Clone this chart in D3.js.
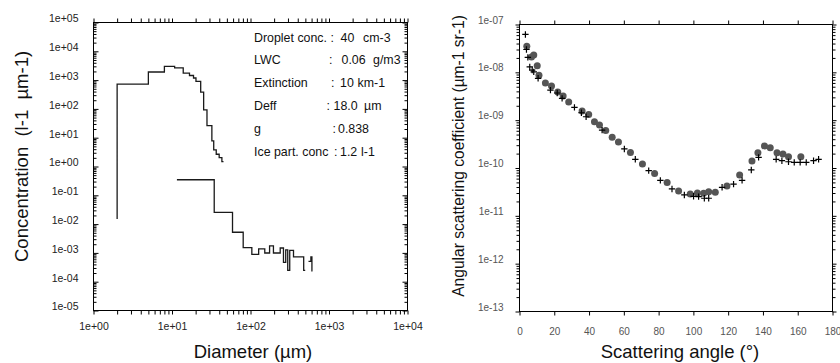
<!DOCTYPE html>
<html>
<head>
<meta charset="utf-8">
<script src="https://cdn.jsdelivr.net/npm/d3@7"></script>
<style>
  body { margin: 0; background: #fff; }
  svg { display: block; }
  text { font-family: "Liberation Sans", Arial, Helvetica, sans-serif; }
</style>
</head>
<body>
<svg id="chart" width="840" height="363"></svg>
<script>
// ---- Size distribution (left panel) ----
// droplet histogram: bin edges (µm) and concentration per bin (l-1 µm-1)
const dropletEdges = [2, 5, 8, 10.8, 13.9, 16.7, 18.8, 20.2, 23.2, 25.3, 27.9, 32.2, 34.0, 36.6, 39.9, 43.2, 45.3];
const dropletConc  = [720, 1910, 3000, 2640, 1750, 1445, 1183, 901, 382, 93, 26.2, 7.7, 3.76, 2.66, 2.03, 1.47];
const dropletBase  = 0.015;

// ice particle histogram (null = empty bin)
const iceEdges = [11.55, 34.5, 59, 80.7, 104, 127, 152, 175, 196, 239, 263, 281, 298, 316, 353, 476, 498, 548, 588, 606, 617];
const iceConc  = [0.347, 0.0254, 0.00522, 0.00153, 0.000893, 0.00139, 0.000993, 0.00174, 0.000993, 0.00148,
                  0.00047, 0.00128, 0.000248, 0.00123, 0.000731, 0.000248, null, 0.000509, 0.00072, 0.000238];

// microphysical summary
const summaryLabels  = ["Droplet conc. :", "LWC", "Extinction", "Deff", "g", "Ice part. conc"];
const summaryNumbers = ["40", "0.06", "10", "18.0", "0.838", "1.2"];
const summaryUnits   = ["cm-3", "g/m3", "km-1", "\u00b5m", "", "l-1"];

const diamTicks = [1, 10, 100, 1000, 10000];
const concTicks = [1e-5, 1e-4, 1e-3, 1e-2, 1e-1, 1, 10, 100, 1e3, 1e4, 1e5];

// ---- Scattering phase function (right panel) ----
const measAngle = [4.2, 6.9, 8.2, 10.2, 11.2, 14.9, 18.4, 22.0, 25.1, 28.3, 36.0, 39.8, 43.1, 46.0, 49.6, 53.3,
                   56.9, 63.8, 70.7, 77.7, 84.9, 91.5, 98.2, 102.3, 105.9, 108.8, 112.6, 119.3, 126.6, 133.7,
                   137.1, 140.9, 144.2, 148.1, 151.5, 154.7, 161.8];
const measValue = [3.5e-8, 2.1e-8, 2.3e-8, 1.37e-8, 8.7e-9, 6.0e-9, 5.2e-9, 3.9e-9, 3.2e-9, 2.4e-9, 1.55e-9, 1.32e-9,
                   9.3e-10, 7.9e-10, 6.1e-10, 4.4e-10, 3.5e-10, 2.1e-10, 1.21e-10, 7.7e-11, 5.0e-11, 3.3e-11,
                   2.86e-11, 3.0e-11, 2.96e-11, 3.2e-11, 3.1e-11, 4.2e-11, 7.1e-11, 1.4e-10, 2.08e-10, 2.9e-10,
                   2.65e-10, 2.08e-10, 1.96e-10, 1.72e-10, 1.72e-10];

const modelAngle = [3.4, 4.0, 4.8, 5.9, 7.3, 8.2, 10.7, 17.8, 21.7, 24.5, 31.6, 35.6, 38.3, 47.5, 60.3, 66.6, 74.3,
                    81.0, 87.7, 94.8, 100.1, 103.0, 106.3, 108.8, 116.5, 123.1, 128.0, 133.3, 137.5, 147.6, 150.9,
                    154.7, 158.0, 161.4, 164.9, 169.1, 172.0];
const modelValue = [6.2e-8, 3.0e-8, 2.05e-8, 1.3e-8, 1.11e-8, 1.02e-8, 7.5e-9, 4.25e-9, 3.7e-9, 2.85e-9, 1.85e-9,
                    1.43e-9, 1.18e-9, 6.2e-10, 2.5e-10, 1.52e-10, 8.8e-11, 5.5e-11, 3.65e-11, 2.73e-11, 2.56e-11,
                    2.52e-11, 2.33e-11, 2.33e-11, 3.95e-11, 4.6e-11, 5.5e-11, 9.1e-11, 1.67e-10, 1.52e-10, 1.42e-10,
                    1.35e-10, 1.31e-10, 1.31e-10, 1.31e-10, 1.42e-10, 1.52e-10];

const angleTicks = [0, 20, 40, 60, 80, 100, 120, 140, 160, 180];
const coefTicks  = [1e-13, 1e-12, 1e-11, 1e-10, 1e-9, 1e-8, 1e-7];

// ---------------------------------------------------------------
const svg = d3.select("#chart");

const sciFmt = v => {
  const e = Math.round(Math.log10(v));
  return "1e" + (e < 0 ? "-" : "+") + String(Math.abs(e)).padStart(2, "0");
};
const minorLog = (lo, hi) => {
  const out = [];
  for (let e = Math.round(Math.log10(lo)); e < Math.round(Math.log10(hi)); e++)
    for (let k = 2; k <= 9; k++) out.push(k * Math.pow(10, e));
  return out;
};
function styleAxis(g) {
  g.select(".domain").remove();
  g.selectAll(".tick line").attr("stroke", "#000").attr("stroke-width", 1);
}
const FONT = "Liberation Sans, Arial, sans-serif";

// ===== Left panel =====
const xL = d3.scaleLog().domain([1, 1e4]).range([93.5, 407.5]);
const yL = d3.scaleLog().domain([1e-5, 1e5]).range([310.5, 22.5]);
const left = svg.append("g");

// bottom axis: outward ticks with labels
left.append("g").attr("transform", `translate(0,${yL.range()[0]})`)
  .call(d3.axisBottom(xL).tickValues(diamTicks).tickFormat(sciFmt).tickSize(4).tickPadding(8))
  .call(styleAxis)
  .call(g => g.selectAll("text").attr("font-size", 10.5).attr("fill", "#222").attr("font-family", FONT));
left.append("g").attr("transform", `translate(0,${yL.range()[0]})`)
  .call(d3.axisBottom(xL).tickValues(minorLog(1, 1e4)).tickFormat("").tickSize(4)).call(styleAxis);
// top axis: outward ticks
left.append("g").attr("transform", `translate(0,${yL.range()[1]})`)
  .call(d3.axisTop(xL).tickValues(diamTicks.concat(minorLog(1, 1e4))).tickFormat("").tickSize(4)).call(styleAxis);
// left axis: inward ticks, labels outside
left.append("g").attr("transform", `translate(${xL.range()[0]},0)`)
  .call(d3.axisLeft(yL).tickValues(concTicks).tickFormat(sciFmt).tickSize(-5).tickPadding(15))
  .call(styleAxis)
  .call(g => g.selectAll("text").attr("font-size", 10.5).attr("fill", "#222").attr("dy", "-0.05em")
    .attr("font-family", FONT));
left.append("g").attr("transform", `translate(${xL.range()[0]},0)`)
  .call(d3.axisLeft(yL).tickValues(minorLog(1e-5, 1e5)).tickFormat("").tickSize(-3)).call(styleAxis);
// right axis: inward ticks
left.append("g").attr("transform", `translate(${xL.range()[1]},0)`)
  .call(d3.axisRight(yL).tickValues(concTicks).tickFormat("").tickSize(-5)).call(styleAxis);
left.append("g").attr("transform", `translate(${xL.range()[1]},0)`)
  .call(d3.axisRight(yL).tickValues(minorLog(1e-5, 1e5)).tickFormat("").tickSize(-3)).call(styleAxis);

left.append("rect")
  .attr("x", xL.range()[0]).attr("y", yL.range()[1])
  .attr("width", xL.range()[1] - xL.range()[0]).attr("height", yL.range()[0] - yL.range()[1])
  .attr("fill", "none").attr("stroke", "#000").attr("stroke-width", 1);

// histogram outlines
function stepPoints(edges, vals) {
  const pts = [];
  vals.forEach((v, i) => {
    if (v == null) pts.push({ gap: true });
    else pts.push({ d: edges[i], c: v }, { d: edges[i + 1], c: v });
  });
  return pts;
}
const stepLine = d3.line().defined(p => !p.gap).x(p => xL(p.d)).y(p => yL(p.c));

const dropPts = [{ d: dropletEdges[0], c: dropletBase }].concat(stepPoints(dropletEdges, dropletConc));
left.append("path").attr("d", stepLine(dropPts))
  .attr("fill", "none").attr("stroke", "#1a1a1a").attr("stroke-width", 1.3);
left.append("path").attr("d", stepLine(stepPoints(iceEdges, iceConc)))
  .attr("fill", "none").attr("stroke", "#1a1a1a").attr("stroke-width", 1.3);

// summary text block: label, colon, number, unit columns per row
const sumX = 254, sumY0 = 41.5, sumDy = 22.9, sumSize = 12.4;
const colonX = [null, 329, 331, 326.5, 332.5, 334];
const numX   = [340.5, 341.5, 340, 333.5, 338, 340];
const unitX  = [363, 373, 357.5, 364, null, 361];
summaryLabels.forEach((lab, i) => {
  const y = sumY0 + i * sumDy;
  const t = (x, s) => left.append("text").attr("x", x).attr("y", y)
    .attr("font-size", sumSize).attr("fill", "#111").text(s);
  t(sumX, lab);
  if (colonX[i] != null) t(colonX[i], ":");
  t(numX[i], summaryNumbers[i]);
  if (summaryUnits[i]) t(unitX[i], summaryUnits[i]);
});

// axis titles
left.append("text").attr("x", 253).attr("y", 358).attr("text-anchor", "middle")
  .attr("font-size", 18.5).attr("fill", "#111").text("Diameter (\u00b5m)");
left.append("text").attr("transform", "translate(28,262) rotate(-90)")
  .attr("font-size", 18.5).attr("fill", "#111").style("white-space", "pre")
  .text("Concentration  (l-1  \u00b5m-1)");

// ===== Right panel =====
const xR = d3.scaleLinear().domain([0, 180]).range([519.5, 832.5]);
const yR = d3.scaleLog().domain([1e-13, 1e-7]).range([311.5, 24.5]);
const right = svg.append("g");

right.append("g").attr("transform", `translate(0,${yR.range()[0]})`)
  .call(d3.axisBottom(xR).tickValues(angleTicks).tickSize(4).tickPadding(12))
  .call(styleAxis)
  .call(g => g.selectAll("text").attr("font-size", 10).attr("fill", "#555").attr("font-family", FONT));
right.append("g").attr("transform", `translate(0,${yR.range()[1]})`)
  .call(d3.axisTop(xR).tickValues(angleTicks).tickFormat("").tickSize(4)).call(styleAxis);
right.append("g").attr("transform", `translate(${xR.range()[0]},0)`)
  .call(d3.axisLeft(yR).tickValues(coefTicks).tickFormat(sciFmt).tickSize(4).tickPadding(12))
  .call(styleAxis)
  .call(g => g.selectAll("text").attr("font-size", 10).attr("fill", "#555").attr("dy", "-0.15em")
    .attr("font-family", FONT));
right.append("g").attr("transform", `translate(${xR.range()[0]},0)`)
  .call(d3.axisLeft(yR).tickValues(minorLog(1e-13, 1e-7)).tickFormat("").tickSize(3)).call(styleAxis);
right.append("g").attr("transform", `translate(${xR.range()[1]},0)`)
  .call(d3.axisRight(yR).tickValues(coefTicks).tickFormat("").tickSize(4)).call(styleAxis);
right.append("g").attr("transform", `translate(${xR.range()[1]},0)`)
  .call(d3.axisRight(yR).tickValues(minorLog(1e-13, 1e-7)).tickFormat("").tickSize(3)).call(styleAxis);

right.append("rect")
  .attr("x", xR.range()[0]).attr("y", yR.range()[1])
  .attr("width", xR.range()[1] - xR.range()[0]).attr("height", yR.range()[0] - yR.range()[1])
  .attr("fill", "none").attr("stroke", "#000").attr("stroke-width", 1);

// measured: grey dots
right.append("g").selectAll("circle")
  .data(measAngle.map((a, i) => ({ a, v: measValue[i] })))
  .join("circle")
  .attr("cx", d => xR(d.a)).attr("cy", d => yR(d.v)).attr("r", 3.5)
  .attr("fill", "#555");

// computed: black crosses
right.append("g").selectAll("path")
  .data(modelAngle.map((a, i) => ({ a, v: modelValue[i] })))
  .join("path")
  .attr("transform", d => `translate(${xR(d.a)},${yR(d.v)})`)
  .attr("d", "M-3.2,0H3.2M0,-3.2V3.2")
  .attr("stroke", "#000").attr("stroke-width", 1.2).attr("fill", "none");

right.append("text").attr("x", 680).attr("y", 358).attr("text-anchor", "middle")
  .attr("font-size", 18.5).attr("fill", "#111").text("Scattering angle (\u00b0)");
right.append("text").attr("transform", "translate(464,156) rotate(-90)")
  .attr("text-anchor", "middle").attr("font-size", 15.6).attr("fill", "#111")
  .text("Angular scattering coefficient (\u00b5m-1 sr-1)");
</script>
</body>
</html>
